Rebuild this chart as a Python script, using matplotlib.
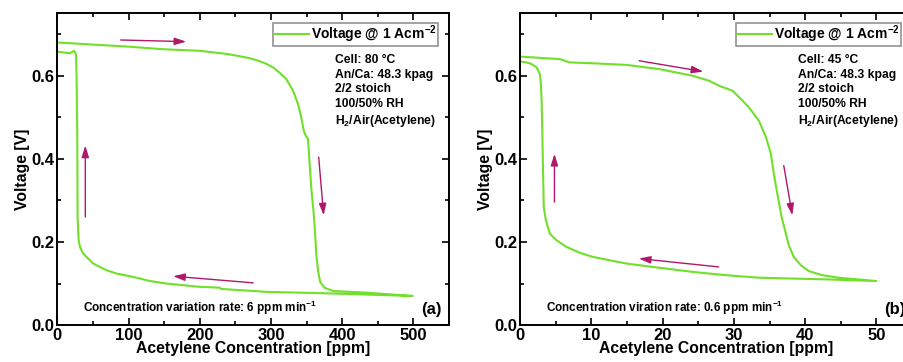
import matplotlib.pyplot as plt
from matplotlib.ticker import MultipleLocator

plt.rcParams['font.family'] = ['Liberation Sans', 'DejaVu Sans']
plt.rcParams['font.weight'] = 'bold'
plt.rcParams['mathtext.default'] = 'regular'

# panel (a): 80 C, 6 ppm/min
a_up_x = [0, 50, 100, 146, 200, 240, 265, 275, 284, 293, 303, 313, 321.5, 331, 338, 342.5, 346,
          349, 352, 354, 356.5, 360, 362, 363.5, 366, 369, 375, 387, 433.6, 499]
a_up_y = [0.68, 0.675, 0.67, 0.664, 0.66, 0.652, 0.644, 0.64, 0.635, 0.629, 0.62, 0.606, 0.592,
          0.564, 0.532, 0.5, 0.468, 0.455, 0.448, 0.396, 0.332, 0.268, 0.22, 0.172, 0.132, 0.104,
          0.09, 0.082, 0.078, 0.07]
a_dn_x = [499, 387, 293, 230, 228, 200, 153, 130, 106.5, 83, 69, 55, 50.5, 41, 36.4, 31.8, 30,
          29.4, 28.5, 28, 27, 26.2, 23.4, 17.8, 8.4, 0]
a_dn_y = [0.07, 0.076, 0.08, 0.087, 0.09, 0.092, 0.1, 0.106, 0.116, 0.124, 0.132, 0.144, 0.148,
          0.164, 0.172, 0.188, 0.205, 0.22, 0.26, 0.46, 0.6, 0.652, 0.66, 0.654, 0.656, 0.658]

# panel (b): 45 C, 0.6 ppm/min
b_up_x = [0, 5.55, 6.95, 10.2, 14.9, 19.5, 24.2, 26.5, 27.9, 29.8, 31.2, 32.1, 33.5, 34.5, 35.2,
          35.6, 36.1, 36.7, 37.3, 37.7, 38.4, 39.4, 40.5, 42.4, 44.7, 50]
b_up_y = [0.646, 0.64, 0.632, 0.63, 0.626, 0.616, 0.6, 0.588, 0.576, 0.564, 0.54, 0.524, 0.492,
          0.452, 0.412, 0.364, 0.316, 0.26, 0.22, 0.192, 0.164, 0.144, 0.13, 0.12, 0.114, 0.106]
b_dn_x = [50, 42.9, 33.5, 28.9, 24.2, 19.5, 14.9, 10.2, 8.35, 6.5, 5.1, 4.15, 3.6, 3.3, 3.1,
          3.0, 2.9, 2.75, 2.3, 1.6, 0.9, 0]
b_dn_y = [0.106, 0.11, 0.114, 0.12, 0.128, 0.138, 0.148, 0.164, 0.174, 0.188, 0.204, 0.22, 0.252,
          0.284, 0.46, 0.54, 0.58, 0.604, 0.62, 0.628, 0.632, 0.634]

# arrows: (x0, y0, x1, y1)
a_arrows = [(89, 0.686, 181, 0.682), (39.3, 0.26, 39.3, 0.432),
            (367, 0.404, 374, 0.264), (275, 0.1016, 162.6, 0.1176)]
b_arrows = [(16.7, 0.636, 25.7, 0.61), (4.8, 0.296, 4.8, 0.412),
            (37.0, 0.384, 38.2, 0.264), (27.85, 0.14, 16.65, 0.16)]

green = '#70e02a'
arrow_col = '#b0186c'

fig = plt.figure(figsize=(9.04, 3.62), dpi=100)
ax1 = fig.add_axes([0.0634, 0.102, 0.4333, 0.861])
ax2 = fig.add_axes([0.5755, 0.102, 0.4333, 0.861])

panels = [
    (ax1, a_up_x, a_up_y, a_dn_x, a_dn_y, a_arrows, 550, 100, 50, 'Cell: 80 °C',
     'Concentration variation rate: 6 ppm min$^{-1}$', '(a)'),
    (ax2, b_up_x, b_up_y, b_dn_x, b_dn_y, b_arrows, 55, 10, 5, 'Cell: 45 °C',
     'Concentration viration rate: 0.6 ppm min$^{-1}$', '(b)'),
]

for ax, ux, uy, dx, dy, arrows, xmax, maj, mnr, cell, rate, tag in panels:
    ax.plot(ux + dx, uy + dy, color=green, lw=1.5, label='Voltage @ 1 Acm$^{-2}$')
    for x0, y0, x1, y1 in arrows:
        ax.annotate('', xy=(x1, y1), xytext=(x0, y0),
                    arrowprops=dict(arrowstyle='-|>,head_length=0.7,head_width=0.22',
                                    color=arrow_col, lw=1.0, shrinkA=0, shrinkB=0))
    ax.xaxis.set_major_locator(MultipleLocator(maj))
    ax.xaxis.set_minor_locator(MultipleLocator(mnr))
    ax.yaxis.set_major_locator(MultipleLocator(0.2))
    ax.yaxis.set_minor_locator(MultipleLocator(0.1))
    ax.set_xlim(0, xmax)
    ax.set_ylim(0, 0.75)
    ax.tick_params(which='both', direction='in', top=True, right=True, labelsize=12, width=1.2, pad=2)
    ax.tick_params(which='major', length=5)
    ax.tick_params(which='minor', length=3)
    for lab in ax.get_xticklabels() + ax.get_yticklabels():
        lab.set_fontweight('bold')
    for s in ax.spines.values():
        s.set_linewidth(1.4)
    ax.set_xlabel('Acetylene Concentration [ppm]', fontsize=11.3, fontweight='bold', labelpad=-1)
    ax.set_ylabel('Voltage [V]', fontsize=11.3, fontweight='bold', labelpad=1)
    leg = ax.legend(loc='upper right', bbox_to_anchor=(0.972, 0.97), fancybox=False,
                    prop={'size': 10, 'weight': 'bold'}, handlelength=2.5, handletextpad=0.2,
                    borderpad=0.05, borderaxespad=0)
    leg.get_frame().set_edgecolor('#777777')
    leg.get_frame().set_linewidth(1.2)
    ax.text(0.71, 0.87, cell + '\nAn/Ca: 48.3 kpag\n2/2 stoich\n100/50% RH\nH$_2$/Air(Acetylene)',
            transform=ax.transAxes, ha='left', va='top', fontsize=8.7, fontweight='bold',
            linespacing=1.3)
    ax.text(0.066, 0.055, rate, transform=ax.transAxes, ha='left', va='center',
            fontsize=8.5, fontweight='bold')
    ax.text(0.93, 0.05, tag, transform=ax.transAxes, ha='left', va='center', fontsize=12)

fig.savefig('out.png', dpi=100)
